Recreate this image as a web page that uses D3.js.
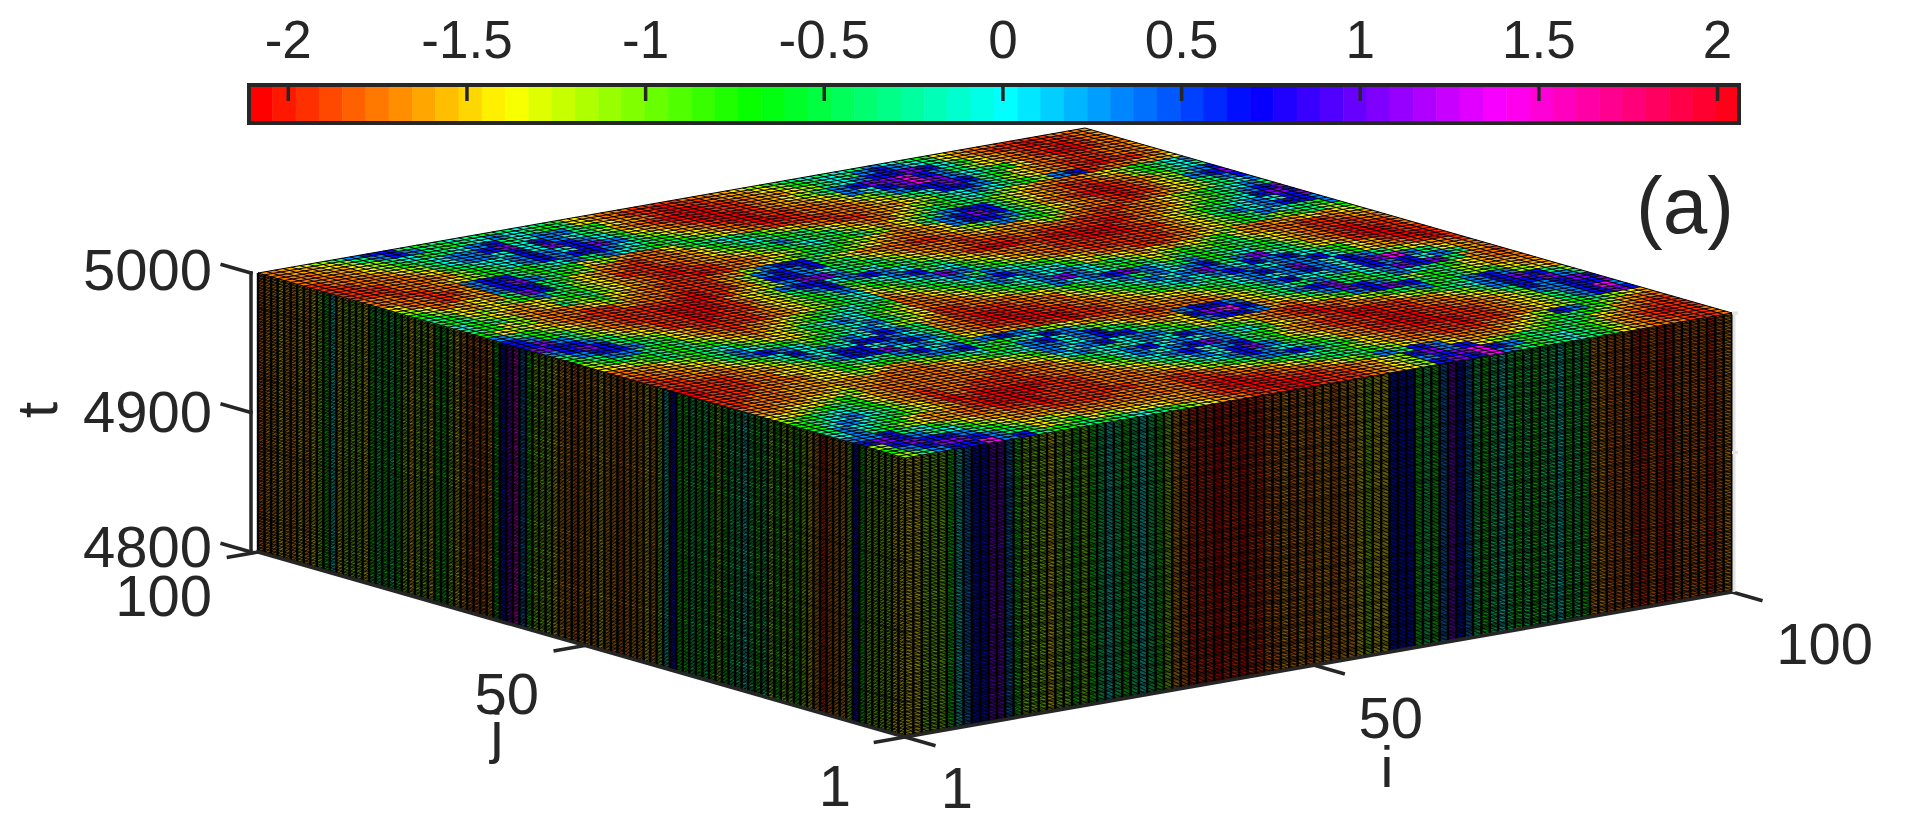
<!DOCTYPE html>
<html>
<head>
<meta charset="utf-8">
<script src="https://cdn.jsdelivr.net/npm/d3@7"></script>
<style>
    html, body { margin: 0; background: #fff; }
    text { font-family: "Liberation Sans", Arial, sans-serif; fill: #262626; }
</style>
</head>
<body>
<svg id="chart" width="1920" height="813"></svg>
<script>
// value of each letter used in the maps below
const levelKeys = ["R", "r", "o", "O", "y", "l", "g", "s", "c", "a", "b", "p", "m"];
const levelValues = [-2.05, -1.92, -1.76, -1.6, -1.41, -1.07, -0.72, -0.37, -0.03, 0.32, 0.67, 1.02, 1.36];

// top surface at t = 5000, one letter per 2 x 2 cells. first row is j = 100, last row j = 1
const topRows = [
    "oOylsabbsg scsgscsgyO oorrrooOyl gscscsacsg yOoorrrooO",
    "oOOylsabas gscacsgsyO orrRrroOOy lgscsabacs yOorrRrroO",
    "ooOOylscgs cabscaasgy OorRRrroOO ylscabbpbc gyOorrRroo",
    "oooOylgsca abpcbacslO orRRRrroOy lsabppmbas lyOorRRroo",
    "roooOylsca acbcpbacgy OorRRRroOO ylacbpmpac sgyoorrooO",
    "rroooOygsc cabacbpasl yOorRRrroo Oylsabbpbs gyOorrrooO",
    "rrroooOlgs cababbacsg lyOorRRroo oOylscbbas lyOorRrroO",
    "rrrooOylgs gscasacsgs glyOorrrro oOOylscacs glabrooOOy",
    "oorrooabbs gsgylOooyg scsglyOorr oOylgscsly OooOylgsca",
    "ooorrOabpa sglOorooOy gscsgslyOo oylsgsglyO orroOlgscs",
    "yooroOabbs gyOorrooOy lgsasgslyO ylsabbslyO orRroOlsab",
    "lyoOyOspbs lyOrrrroOO ylgscsgslO ysabpbslOo rRRroylabp",
    "glyOylgasg lyOorRrroo OylgsglyOo OyabbaslyO orRroylsab",
    "sgylyOylgs lyOorrRroO ylgsglyOoo OylsasglOo orroOylsca",
    "gslyOOyslg yOorrroOla bbslyOoorr oOyOOylOor roOylgscas",
    "cgslOooOyl OoorrrOlab abgslyOooo rooOooorrr ooOylgsabp",
    "sgylOoorrO oorRrrOlbb acsgslyOoo rrrorrrrRr oOylgscbpb",
    "gylyOorrrr rrRRrOylap pascgslyOr RRrrRRRRro Oylgscacbp",
    "asglyOorrr RRRrOylabb cabacgslyO ooorrRRRrr Oylsacabba",
    "bagslOorrr RRRroylsab gscabscgly Ooorrrrrro Oylgsacsga",
    "bpaslyOorr RRrrOylgsa lgscapasgl yOoorrrrro Oylgslgslg",
    "pbbaslyOrr RrroOylgsc ylgscasacs glyOoorroO ylOoOOyOyl",
    "abpbsglyOr rrroOylgsc Oylgscabac cgylyOyOyl gyOoorroOO",
    "sabbasgyOo roOylgscsg oOylgsacac acgslylglg slyOorrroo",
    "gsaasgslyO oOylgscsgl ooOylgscap acsgslsgsg sgyOorRrro",
    "lgsgsgsgly Oylscacgly oooOylgsac abpacsagsc gslOorRRro",
    "yylgsgscgl yylgscasly rroooOylgs casacabsap cslyOrRRrr",
    "oOOylgsacs glgscaclyO rrrroooylg scacapacba bcsgyOrRRr",
    "ooOOylsaba cgsacbasOo rRRrrooOyl gscacabaca abcgyOorRr",
    "rooOOylgcb cacbbacsOo rRRRrrooOy lgscscabap acbaslyOor",
    "rroooOylsa cbbcabasOo rrRRRrroOO yylgscacab acbpmasyOo",
    "rrrroOOyls abbpcacgyO OorrRrrooO OOylgsabcc acbabcasOo",
    "Rrrrooyylg scsabcagab aslyOoorro ooOylscsas gcapbpsOor",
    "Rrrroooyyg lggsaabsgs cbaslyOooa bbaylsabps gsacsgyOoo",
    "rrrooOOyyl yOOlgscgsa bcabsgyOyb pmbOylsapb aslgslyOOo",
    "rrooOOOOOO oooOylgsca acabbsglya bbaOoylgab pbsgslgyOO",
    "roooOOyOOo oooOOOylga cabcaasgyl yOorrooylg sagsabalyO",
    "ooOOyylOoo oooooOOylc acscacbasg lOorRrooOy lgscabpbsl",
    "OOyylgyOoo oooorrooyg scabcacasc gyOorRRrro Oylsabbpas",
    "yylgsgyOor oorrrooOOl gcacabpasg lOorrRRrro oOylsbabpb",
    "lgscsglOor orrrrrooOy lscabcabsg yOorrrRRrr ooOylaabbp",
    "gscacslyoR rRRRRrrooO ylscacbpag lyOorRRRrr roOylsabma",
    "gcacsglyOr RRRRrrrooo Oylscabacs glOorrRRRr roOylsabpb",
    "sacsgyOOor RRRrrrrooo ooylgsaaba sgyOorrrRr roOylgslyO",
    "casglyOOoo rrRrrrrroo rroOylgscs glyOoorrro oylbaglOoo",
    "aabscglyOO oorrrroooo rrrooOylgs sglyOOoooO ylgsglOorr",
    "bpbascglyO OOoooooooo rRRrrooOyl gasbayOOOy lgsgyOorrr",
    "lbpbbasgly lyOOOOOOOo rRRRrrrooO ylbpabylgs gsglOorRrr",
    "gabppbasgy lgylyyyOOo rrRRRRrroO ylabpmbags csglOorrro",
    "lsabbmabsg gsgscsglyO orrRRrrroO ylbpbmasgs csgyOoorro"
];

// columns on the j wall, left to right (j = 100 down to j = 1)
const wallJ = "OoOOyOOyOy lgcylllygs gsglyllygg lyOoooOgbp maglllyOOo OOOyOOoOOO yOlcbggsgs glgsscsgsl gllglyOroO Olbgllllyy";
// columns on the i wall, left to right (i = 1 up to i = 100)
const wallI = "yylllgcabb ppaglllyll glgscsgscs glOorrrRrr RrrooOoOoO OoOOylyybb bgsgapbasg scsgsgsscg sgOOooorro rrooooroOO";

const cbarTicks = [-2, -1.5, -1, -0.5, 0, 0.5, 1, 1.5, 2];
const cbarRange = [-2.11, 2.06];
const tTicks = [4800, 4900, 5000];
const iTicks = [1, 50, 100];
const jTicks = [1, 50, 100];
const N_COLORS = 64;
const N_TIME_LINES = 200;

const FRONT = [905, 458];
const RIGHT = [1732, 313];
const LEFT = [258, 273];
const WALL_HEIGHT = 279;
const TICK_LEN = 30;
const AXIS_COLOR = "#262626";

const svg = d3.select("#chart");

const valueOf = d3.scaleOrdinal().domain(levelKeys).range(levelValues);
const gridOf = d3.scaleLinear().domain([1, 100]).range([0, 1]);
const timeOf = d3.scaleLinear().domain([4800, 5000]).range([0, WALL_HEIGHT]);
const cbarX = d3.scaleLinear().domain(cbarRange).range([249, 1739]);

const colorIndex = function (v) {
    const k = Math.floor((v - cbarRange[0]) / (cbarRange[1] - cbarRange[0]) * N_COLORS);
    return Math.max(0, Math.min(N_COLORS - 1, k));
};
const hsvColor = function (k) {
    return d3.hsl(k / N_COLORS * 360, 1, 0.5).formatHex();
};

const project = function (i, j, t) {
    const a = gridOf(i), b = gridOf(j);
    return [
        FRONT[0] + a * (RIGHT[0] - FRONT[0]) + b * (LEFT[0] - FRONT[0]),
        FRONT[1] + a * (RIGHT[1] - FRONT[1]) + b * (LEFT[1] - FRONT[1]) + WALL_HEIGHT - timeOf(t)
    ];
};
const seg = (p, q) => `M${p[0]},${p[1]}L${q[0]},${q[1]}`;
const poly = (pts) => "M" + pts.map(p => p.join(",")).join("L") + "Z";

// group quads by colour level, one path per level
function drawQuads(g, quads) {
    const byColor = d3.group(quads, d => d.k);
    g.selectAll("path")
        .data(Array.from(byColor))
        .enter().append("path")
        .attr("fill", d => hsvColor(d[0]))
        .attr("d", d => d[1].map(q => q.d).join(""));
}

function drawMesh(g, d, width) {
    g.append("path").attr("d", d).attr("fill", "none").attr("stroke", "#000").attr("stroke-width", width);
}

// walls
const wallsI = wallI.replace(/ /g, "");
const wallsJ = wallJ.replace(/ /g, "");
const wallQuads = [];
d3.range(1, 100).forEach(function (n) {
    wallQuads.push({
        k: colorIndex(valueOf(wallsI[n - 1])),
        d: poly([project(n, 1, 4800), project(n + 1, 1, 4800), project(n + 1, 1, 5000), project(n, 1, 5000)])
    });
    wallQuads.push({
        k: colorIndex(valueOf(wallsJ[100 - n])),
        d: poly([project(1, n, 4800), project(1, n + 1, 4800), project(1, n + 1, 5000), project(1, n, 5000)])
    });
});
const gWalls = svg.append("g").attr("class", "walls");
drawQuads(gWalls, wallQuads);

let timeMesh = "";
d3.range(0, N_TIME_LINES + 1).forEach(function (n) {
    const t = 4800 + n * 200 / N_TIME_LINES;
    timeMesh += seg(project(1, 100, t), project(1, 1, t)) + seg(project(1, 1, t), project(100, 1, t));
});
drawMesh(gWalls, timeMesh, 1.05);
let wallMesh = "";
d3.range(1, 101).forEach(function (n) {
    wallMesh += seg(project(n, 1, 4800), project(n, 1, 5000)) + seg(project(1, n, 4800), project(1, n, 5000));
});
drawMesh(gWalls, wallMesh, 2.4);

// top surface
const rows = topRows.map(r => r.replace(/ /g, ""));
const topQuads = [];
d3.range(1, 100).forEach(function (i) {
    d3.range(1, 100).forEach(function (j) {
        const letter = rows[49 - Math.floor((j - 1) / 2)][Math.floor((i - 1) / 2)];
        topQuads.push({
            k: colorIndex(valueOf(letter)),
            d: poly([project(i, j, 5000), project(i + 1, j, 5000), project(i + 1, j + 1, 5000), project(i, j + 1, 5000)])
        });
    });
});
const gTop = svg.append("g").attr("class", "top");
drawQuads(gTop, topQuads);
let topMesh = "";
d3.range(1, 101).forEach(function (n) {
    topMesh += seg(project(n, 1, 5000), project(n, 100, 5000)) + seg(project(1, n, 5000), project(100, n, 5000));
});
drawMesh(gTop, topMesh, 1);

// axes
const gAxes = svg.append("g").attr("class", "axes")
    .attr("fill", "none").attr("stroke", AXIS_COLOR).attr("stroke-width", 3.5).attr("stroke-linecap", "square");
const unit = function (p, q, len) {
    const dx = q[0] - p[0], dy = q[1] - p[1], m = Math.hypot(dx, dy);
    return [dx / m * len, dy / m * len];
};
const alongJ = unit(FRONT, LEFT, TICK_LEN);
const alongI = unit(FRONT, RIGHT, TICK_LEN);

// faint hidden lines on the right
svg.append("path").attr("fill", "none").attr("stroke", "#e2e2e2").attr("stroke-width", 3)
    .attr("d", seg([RIGHT[0] + 2, RIGHT[1]], [RIGHT[0] + 2, RIGHT[1] + WALL_HEIGHT])
        + seg([RIGHT[0], RIGHT[1]], [RIGHT[0] + 6, RIGHT[1]])
        + seg([RIGHT[0], RIGHT[1] + WALL_HEIGHT / 2], [RIGHT[0] + 6, RIGHT[1] + WALL_HEIGHT / 2]));

gAxes.append("path").attr("d", seg(project(100, 1, 4800), project(1, 1, 4800)) + seg(project(1, 1, 4800), project(1, 100, 4800)));
iTicks.forEach(function (i) {
    const p = project(i, 1, 4800);
    gAxes.append("path").attr("d", seg(p, [p[0] - alongJ[0], p[1] - alongJ[1]]));
});
jTicks.forEach(function (j) {
    const p = project(1, j, 4800);
    gAxes.append("path").attr("d", seg(p, [p[0] - alongI[0], p[1] - alongI[1]]));
});
const tAxisX = LEFT[0] - 7;
gAxes.append("path").attr("d", seg([tAxisX, project(1, 100, 4800)[1]], [tAxisX, project(1, 100, 5000)[1]]));
tTicks.forEach(function (t) {
    const y = project(1, 100, t)[1];
    gAxes.append("path").attr("d", seg([tAxisX, y], [tAxisX + alongJ[0], y + alongJ[1]]));
});

const addText = function (str, x, y, size, anchor) {
    return svg.append("text").attr("x", x).attr("y", y).attr("font-size", size)
        .attr("text-anchor", anchor || "middle").text(str);
};
const TICK_FONT = 58;
const BAR_FONT = 53;
const tLabelY = { 4800: 567, 4900: 432, 5000: 290 };
tTicks.forEach(t => addText(t, 212, tLabelY[t], TICK_FONT, "end"));
addText("100", 212, 616, TICK_FONT, "end");
addText("50", 539, 714, TICK_FONT, "end");
addText("1", 851, 806, TICK_FONT, "end");
addText("1", 973, 808, TICK_FONT, "end");
addText("50", 1423, 738, TICK_FONT, "end");
addText("100", 1873, 664, TICK_FONT, "end");
addText("j", 497, 752, TICK_FONT);
addText("i", 1387, 787, TICK_FONT);
svg.append("text").attr("transform", "translate(57,410) rotate(-90)")
    .attr("font-size", TICK_FONT).attr("text-anchor", "middle").text("t");
addText("(a)", 1685, 233, 80);

// colorbar
const gBar = svg.append("g").attr("class", "colorbar");
const barTop = 85, barBottom = 123;
const bandW = (cbarX.range()[1] - cbarX.range()[0]) / N_COLORS;
gBar.selectAll("rect.band")
    .data(d3.range(N_COLORS))
    .enter().append("rect")
    .attr("class", "band")
    .attr("x", k => cbarX.range()[0] + k * bandW)
    .attr("y", barTop)
    .attr("width", bandW + 0.5)
    .attr("height", barBottom - barTop)
    .attr("fill", k => hsvColor(k));
gBar.selectAll("path.tick")
    .data(cbarTicks)
    .enter().append("path")
    .attr("class", "tick")
    .attr("stroke", AXIS_COLOR).attr("stroke-width", 3.5)
    .attr("d", d => seg([cbarX(d), barTop], [cbarX(d), barTop + 16]));
gBar.append("rect")
    .attr("x", cbarX.range()[0]).attr("y", barTop)
    .attr("width", cbarX.range()[1] - cbarX.range()[0]).attr("height", barBottom - barTop)
    .attr("fill", "none").attr("stroke", AXIS_COLOR).attr("stroke-width", 4);
cbarTicks.forEach(d => addText(d, cbarX(d), 58, BAR_FONT));
</script>
</body>
</html>
